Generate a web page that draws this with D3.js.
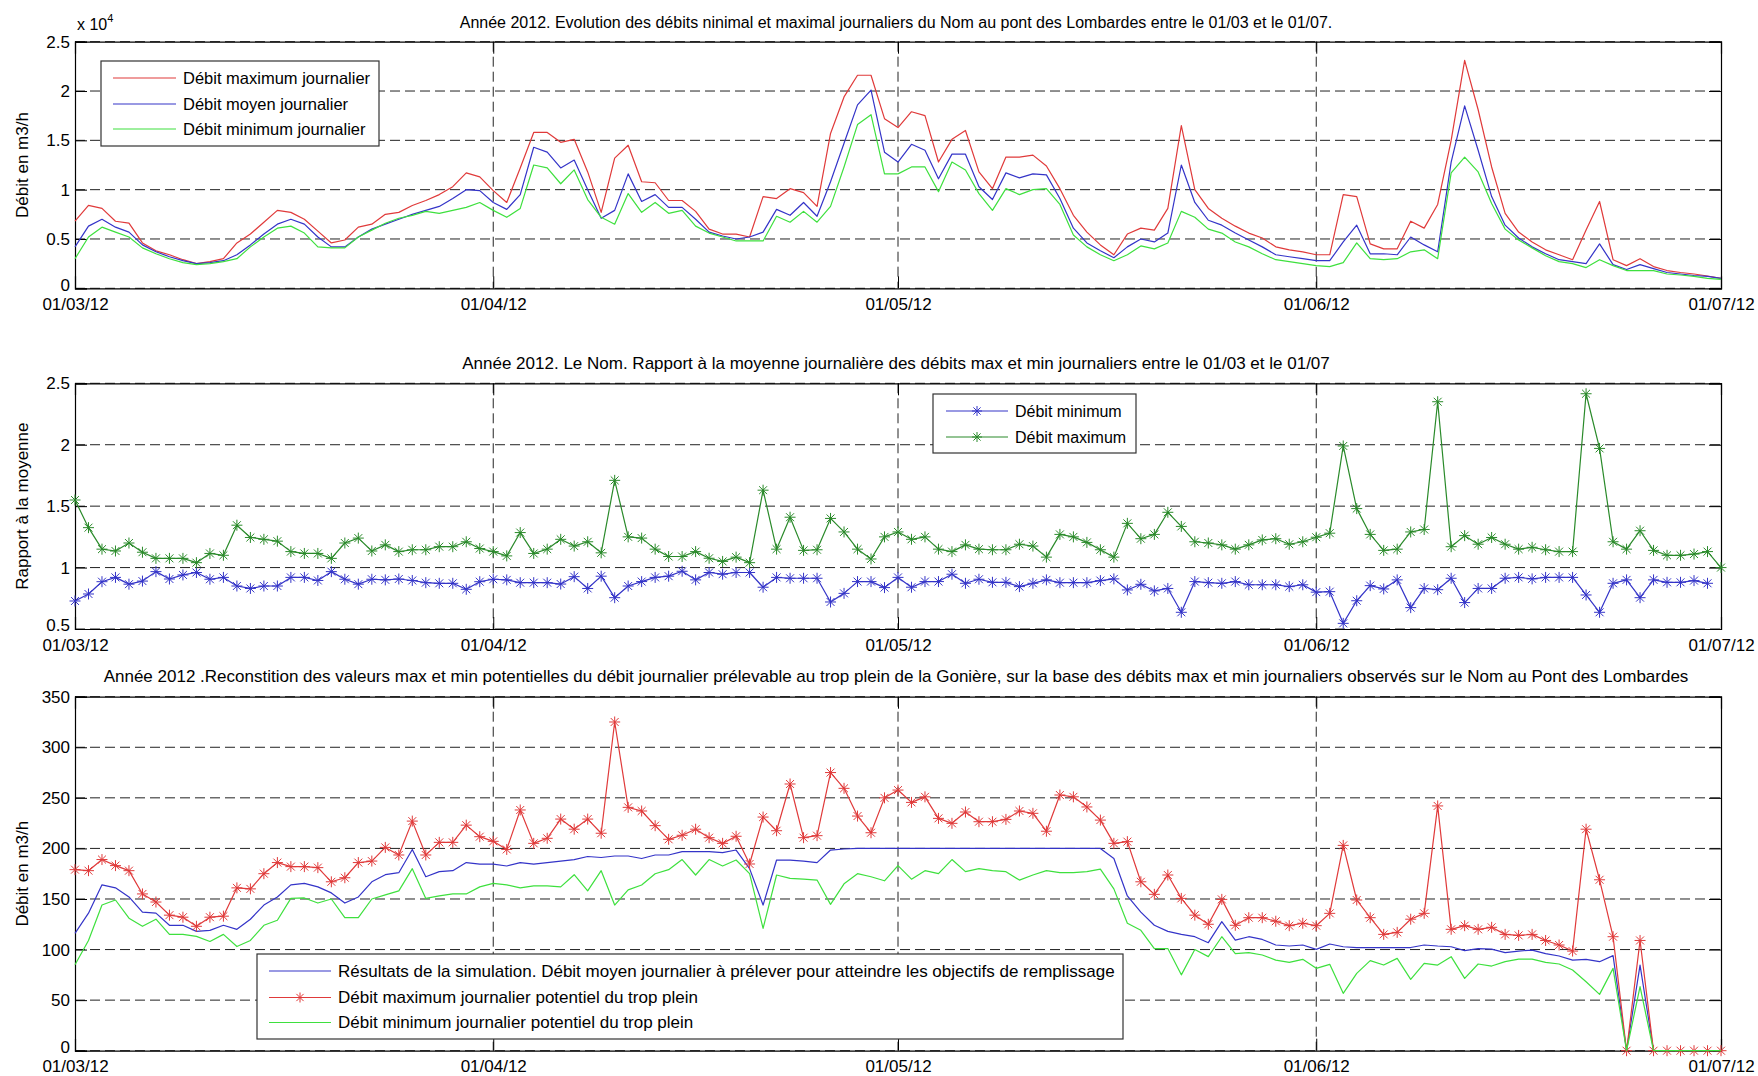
<!DOCTYPE html>
<html>
<head>
<meta charset="utf-8">
<script src="https://cdn.jsdelivr.net/npm/d3@7"></script>
<style>
  body { margin: 0; background: #fff; }
  text { font-family: "Liberation Sans", Arial, sans-serif; fill: #000; }
</style>
</head>
<body>
<div id="main"></div>
<script>
// **** Data: one value per day, 01/03/2012 -> 01/07/2012 ****
var tickLabels = ["01/03/12", "01/04/12", "01/05/12", "01/06/12", "01/07/12"];

// panel 1 (x 10^4 m3/h)
var nomMax = [0.68,0.84,0.81,0.68,0.66,0.46,0.38,0.34,0.29,0.25,0.27,0.30,
  0.46,0.55,0.67,0.79,0.77,0.70,0.58,0.46,0.49,0.62,0.65,0.75,0.77,0.84,0.89,0.95,1.03,1.17,1.13,
  0.99,0.87,1.22,1.58,1.58,1.48,1.51,1.18,0.77,1.32,
  1.45,1.08,1.07,0.89,0.89,0.78,0.60,0.55,0.55,0.52,0.93,0.91,1.01,0.97,0.83,1.57,1.94,2.16,2.16,1.72,
  1.63,1.79,1.75,1.28,1.51,1.60,1.18,1.01,1.33,1.33,1.35,1.24,1.01,0.74,0.57,0.44,0.34,0.55,0.61,0.59,
  0.81,1.65,1.00,
  0.81,0.71,0.63,0.56,0.51,0.42,0.39,0.37,0.34,0.34,0.95,0.93,0.45,0.40,0.40,0.68,0.61,0.85,1.50,2.31,
  1.81,1.23,0.76,0.57,0.47,0.39,0.34,0.29,0.59,0.88,0.29,0.23,0.30,0.22,0.18,0.16,0.145,0.125,0.10];
var nomMoy = [0.42,0.63,0.70,0.62,0.57,0.44,0.37,0.32,0.28,0.25,0.26,0.28,
  0.34,0.44,0.55,0.65,0.70,0.65,0.52,0.42,0.42,0.52,0.60,0.65,0.70,0.75,0.79,0.83,0.91,1.00,0.99,
  0.87,0.80,0.95,1.43,1.38,1.22,1.30,1.00,0.71,0.79,
  1.16,0.88,0.95,0.82,0.82,0.70,0.57,0.53,0.50,0.52,0.57,0.80,0.74,0.87,0.73,1.08,1.47,1.86,2.01,1.38,
  1.28,1.46,1.40,1.11,1.36,1.36,1.03,0.90,1.17,1.12,1.16,1.15,0.91,0.61,0.46,0.38,0.31,0.42,0.50,0.47,
  0.56,1.25,0.87,
  0.69,0.64,0.56,0.49,0.42,0.34,0.32,0.30,0.28,0.28,0.47,0.64,0.35,0.35,0.34,0.52,0.44,0.37,1.28,1.85,
  1.40,0.93,0.64,0.51,0.42,0.35,0.29,0.27,0.25,0.45,0.24,0.19,0.24,0.20,0.16,0.145,0.13,0.12,0.10];
var nomMin = [0.30,0.52,0.62,0.57,0.52,0.41,0.35,0.30,0.26,0.24,0.25,0.27,
  0.30,0.42,0.52,0.61,0.63,0.56,0.42,0.41,0.41,0.52,0.59,0.66,0.71,0.74,0.78,0.76,0.79,0.82,0.87,
  0.79,0.72,0.81,1.25,1.22,1.06,1.20,0.90,0.72,0.65,
  0.96,0.77,0.87,0.76,0.79,0.63,0.56,0.52,0.48,0.48,0.48,0.73,0.67,0.78,0.67,0.83,1.23,1.66,1.76,1.16,
  1.16,1.23,1.23,0.98,1.28,1.20,0.96,0.79,1.01,0.95,1.00,1.01,0.85,0.54,0.42,0.34,0.28,0.34,0.43,0.40,
  0.46,0.78,0.72,
  0.60,0.56,0.47,0.42,0.35,0.29,0.27,0.25,0.23,0.22,0.26,0.46,0.30,0.29,0.30,0.37,0.39,0.30,1.17,1.33,
  1.18,0.86,0.60,0.49,0.41,0.33,0.27,0.25,0.21,0.29,0.23,0.18,0.18,0.18,0.145,0.135,0.12,0.10,0.09];

// panel 2 (ratio to the daily mean)
var rapportMin = [0.728,0.785,0.885,0.92,0.865,0.89,0.967,0.907,0.94,0.96,0.905,0.92,0.85,0.83,0.85,0.85,
  0.92,0.92,0.895,0.967,0.905,0.865,0.905,0.90,0.907,0.895,0.877,0.872,0.872,0.823,0.885,
  0.905,0.90,0.877,0.877,0.877,0.866,0.926,0.83,0.93,0.755,
  0.85,0.886,0.92,0.93,0.97,0.90,0.96,0.946,0.96,0.96,0.84,0.92,0.913,0.913,0.913,0.72,0.79,0.886,0.886,
  0.837,0.92,0.84,0.886,0.886,0.946,0.872,0.905,0.88,0.88,0.845,0.872,0.90,0.877,0.877,0.877,0.894,
  0.908,0.818,0.864,0.81,0.83,0.636,0.886,
  0.877,0.872,0.886,0.86,0.86,0.86,0.845,0.86,0.80,0.804,0.546,0.73,0.853,0.826,0.90,0.674,0.83,0.82,
  0.913,0.715,0.83,0.83,0.913,0.92,0.908,0.92,0.92,0.92,0.777,0.636,0.872,0.90,0.755,0.90,0.88,0.88,
  0.894,0.872];
var rapportMax = [1.55,1.325,1.15,1.135,1.20,1.125,1.075,1.075,1.075,1.04,1.115,1.10,1.345,1.245,1.23,1.215,
  1.13,1.115,1.115,1.075,1.20,1.24,1.135,1.185,1.13,1.145,1.145,1.17,1.17,1.21,1.155,
  1.13,1.095,1.285,1.115,1.15,1.23,1.175,1.21,1.12,1.71,
  1.25,1.24,1.15,1.09,1.09,1.13,1.076,1.05,1.085,1.04,1.63,1.15,1.41,1.14,1.145,1.40,1.29,1.15,1.07,1.25,
  1.29,1.23,1.25,1.15,1.13,1.185,1.15,1.145,1.145,1.19,1.175,1.085,1.27,1.25,1.205,1.145,1.085,1.36,
  1.235,1.27,1.45,1.335,1.21,
  1.20,1.185,1.15,1.185,1.225,1.235,1.19,1.21,1.247,1.28,1.99,1.48,1.27,1.14,1.15,1.29,1.31,2.35,1.17,
  1.26,1.19,1.245,1.19,1.15,1.165,1.145,1.13,1.13,2.415,1.97,1.21,1.15,1.30,1.14,1.10,1.10,1.11,1.13,1.00];

// panel 3 (m3/h, trop plein de la Gonière)
var simMoy = [116,136,164,161,152,137,136,124,124,118,119,124,120,130,144,152,164,165.5,162,156,146,152,
  167,174,176,199,172,177,178,186,184.5,184.5,182.6,186,184.5,186,187.5,189,192,191,192.5,
  192.5,190,193.5,193.5,196.8,196.8,196.8,195.8,198.4,180,144,188.5,188.5,187.5,186,198.4,199.4,
  200,200,200,200,200,200,200,200,200,200,200,200,200,200,200,200,200,200,200,
  190,153,137,124,118,115,112.7,
  106.8,127.6,109.4,112.7,110,104.5,103.5,104.5,100.2,105.5,102.8,102,102,102,102,102,104.5,103.5,
  102.8,99,101,100.5,97,98.5,99.5,96,93.6,89.6,90.3,88,94,0,84.7,0,0,0,0,0,0];
var tropPleinMax = [179,178,189,183,178,155,147,134,132,123,132,133,161,160,175,186,182,182,181,167,171,
  186,187.5,201,193.5,227,193.5,206,206,223,211.6,207,199,238,205,210,229,219,229,215,325,
  240.6,237,222.5,209,213,219,210.6,205,212,184.6,231,217.5,263.7,210.6,212.6,275,259.4,232,215.5,250,
  257.7,245.5,251,229.7,224.8,236,226.4,226.4,228.7,237,234.7,217,252.8,251,241,228,205,206.7,167,154.6,
  173.7,150.6,134,
  125,149.6,124,131.5,131.5,128,123.6,126,123.6,135.8,203,149,131.5,115,117,130,135.8,242,120,123.6,
  120,122,115,114,115,109,104.5,98.5,219,169,112.7,0,109,0,0,0,0,0,0];
var tropPleinMin = [85,109,144,149,131,123,130,115,115,113,108,115,103,109,124,129,150.6,151,146,150,
  131.5,131.5,150,154,158,180,150.6,153,155,155,162,165.5,164,161,163,163,162,174,158,178,144,
  159,163.8,175,179,189,173.7,189,182.6,188.5,175,121,173.7,170.4,169.7,168.7,144.7,165,175,172,168,
  183,169.6,178,175,189,177,180,178,177,168.7,173.7,178,176,176,177,179.6,160,126,119,101,101,75,100,
  93,112.7,96,97,94.6,89.6,87.3,90.3,81.4,85.4,56.7,76.5,89,84.7,91.3,70.5,86.4,84.7,93,71.5,85.7,
  83.7,88,90.6,90.6,87.3,85.7,79.8,68.2,55.7,81.4,0,63.3,0,0,0,0,0,0];

// **** Setup ****
var W = 1758, H = 1076;
var left = 75, right = 1721;
var red = "#e03a3a", blue = "#3434c8", lgreen = "#3ee03e", dgreen = "#2a8a2a";

var svg = d3.select("#main").append("svg")
    .attr("width", W).attr("height", H)
    .style("display", "block");

function dayDate(i) { return new Date(Date.UTC(2012, 2, 1 + i)); }
var tickDates = tickLabels.map(function(s) {
  var p = s.split("/");
  return new Date(Date.UTC(2000 + (+p[2]), +p[1] - 1, +p[0]));
});

var x = d3.scaleUtc()
    .domain([tickDates[0], tickDates[tickDates.length - 1]])
    .range([left, right]);

// asterisk marker like matlab '*'
function star(r) {
  var a = r * 0.72;
  return "M" + (-r) + ",0H" + r + "M0," + (-r) + "V" + r +
         "M" + (-a) + "," + (-a) + "L" + a + "," + a +
         "M" + (-a) + "," + a + "L" + a + "," + (-a);
}

// **** one axes box with grid, ticks and labels ****
function makePanel(top, bottom, yDomain, yTicks, yLabel, title, titleY, titleSize, tickY) {
  var y = d3.scaleLinear().domain(yDomain).range([bottom, top]);
  var g = svg.append("g");

  // dashed grid
  g.append("g").selectAll("line").data(yTicks).enter().append("line")
    .attr("x1", left).attr("x2", right)
    .attr("y1", function(d) { return y(d); }).attr("y2", function(d) { return y(d); })
    .attr("stroke", "#222").attr("stroke-width", 1).attr("stroke-dasharray", "10,5");
  g.append("g").selectAll("line").data(tickDates.slice(1, -1)).enter().append("line")
    .attr("x1", function(d) { return x(d); }).attr("x2", function(d) { return x(d); })
    .attr("y1", top).attr("y2", bottom)
    .attr("stroke", "#222").attr("stroke-width", 1).attr("stroke-dasharray", "10,5");

  // axes (ticks inside, like matlab)
  var yl = g.append("g").attr("transform", "translate(" + left + ",0)")
    .call(d3.axisLeft(y).tickValues(yTicks).tickSize(-12).tickPadding(5).tickFormat(d3.format("")));
  g.append("g").attr("transform", "translate(" + right + ",0)")
    .call(d3.axisRight(y).tickValues(yTicks).tickSize(-12).tickFormat(""));
  var xb = g.append("g").attr("transform", "translate(0," + bottom + ")")
    .call(d3.axisBottom(x).tickValues(tickDates).tickSize(-12).tickPadding(4)
      .tickFormat(function(d, i) { return tickLabels[i]; }));
  g.append("g").attr("transform", "translate(0," + top + ")")
    .call(d3.axisTop(x).tickValues(tickDates).tickSize(-12).tickFormat(""));

  g.selectAll(".domain").attr("stroke", "#000").attr("stroke-width", 1.2);
  g.selectAll(".tick line").attr("stroke", "#000");
  g.selectAll(".tick text").style("font-size", "17px").attr("fill", "#000");
  // lowest y label sits a little higher so it clears the date labels
  yl.selectAll(".tick text").filter(function(d) { return d === yDomain[0]; }).attr("dy", "0.1em");
  xb.selectAll(".tick text").attr("y", tickY - bottom).attr("dy", "0.38em");

  g.append("text")
    .attr("transform", "translate(22," + ((top + bottom) / 2) + ") rotate(-90)")
    .attr("text-anchor", "middle").attr("dy", "0.35em")
    .style("font-size", "17px").text(yLabel);

  svg.append("text")
    .attr("x", (left + right) / 2 - 2).attr("y", titleY)
    .attr("text-anchor", "middle").attr("dy", "0.35em")
    .style("font-size", titleSize).text(title);

  return { g: g, y: y };
}

function drawLine(p, values, color) {
  var line = d3.line()
    .x(function(d, i) { return x(dayDate(i)); })
    .y(function(d) { return p.y(d); });
  p.g.append("path").datum(values)
    .attr("fill", "none").attr("stroke", color).attr("stroke-width", 1.2)
    .attr("stroke-linejoin", "round").attr("d", line);
}

function drawStars(p, values, color) {
  p.g.append("g").selectAll("path").data(values).enter().append("path")
    .attr("transform", function(d, i) { return "translate(" + x(dayDate(i)) + "," + p.y(d) + ")"; })
    .attr("d", star(5.5))
    .attr("fill", "none").attr("stroke", color).attr("stroke-width", 1);
}

function legend(items, bx, by, bw, bh, rowY, lineX0, lineX1, textX, fontSize) {
  var lg = svg.append("g");
  lg.append("rect").attr("x", bx).attr("y", by).attr("width", bw).attr("height", bh)
    .attr("fill", "#fff").attr("stroke", "#333").attr("stroke-width", 1.2);
  items.forEach(function(it, k) {
    var yy = rowY[k];
    lg.append("line").attr("x1", lineX0).attr("x2", lineX1).attr("y1", yy).attr("y2", yy)
      .attr("stroke", it.color).attr("stroke-width", 1.2);
    if (it.star) {
      lg.append("path").attr("transform", "translate(" + ((lineX0 + lineX1) / 2) + "," + yy + ")")
        .attr("d", star(5)).attr("fill", "none").attr("stroke", it.color);
    }
    lg.append("text").attr("x", textX).attr("y", yy).attr("dy", "0.35em")
      .style("font-size", fontSize).text(it.label);
  });
}

// **** Panel 1 ****
var p1 = makePanel(41.7, 288.3, [0, 2.5], [0, 0.5, 1, 1.5, 2, 2.5], "Débit en m3/h",
  "Année 2012. Evolution des débits ninimal et maximal journaliers du Nom au pont des Lombardes entre le 01/03 et le 01/07.",
  22, "16px", 304);
drawLine(p1, nomMax, red);
drawLine(p1, nomMoy, blue);
drawLine(p1, nomMin, lgreen);
var ex = svg.append("text").attr("x", 77).attr("y", 30).style("font-size", "16px");
ex.append("tspan").text("x 10");
ex.append("tspan").attr("dy", -8).style("font-size", "11px").text("4");
legend([
  { label: "Débit maximum journalier", color: red },
  { label: "Débit moyen journalier", color: blue },
  { label: "Débit minimum journalier", color: lgreen }
], 101, 61, 278, 85, [78, 104, 129], 113, 176, 183, "16.5px");

// **** Panel 2 ****
var p2 = makePanel(383.3, 629, [0.5, 2.5], [0.5, 1, 1.5, 2, 2.5], "Rapport à la moyenne",
  "Année 2012. Le Nom.  Rapport à la moyenne journalière des débits max et min journaliers entre le 01/03 et le 01/07",
  363, "17px", 645);
drawLine(p2, rapportMin, blue);
drawStars(p2, rapportMin, blue);
drawLine(p2, rapportMax, dgreen);
drawStars(p2, rapportMax, dgreen);
legend([
  { label: "Débit minimum", color: blue, star: true },
  { label: "Débit maximum", color: dgreen, star: true }
], 933, 394, 203, 59, [411, 437], 946, 1008, 1015, "16px");

// **** Panel 3 ****
var p3 = makePanel(696.7, 1050.7, [0, 350], [0, 50, 100, 150, 200, 250, 300, 350], "Débit en m3/h",
  "Année 2012 .Reconstition des valeurs max et min potentielles du débit journalier prélevable au trop plein de la Gonière, sur la base des débits max et min journaliers observés sur le Nom au Pont des Lombardes",
  676, "17px", 1066);
drawLine(p3, simMoy, blue);
drawLine(p3, tropPleinMax, red);
drawStars(p3, tropPleinMax, red);
drawLine(p3, tropPleinMin, lgreen);
legend([
  { label: "Résultats de la simulation. Débit moyen journalier à prélever pour atteindre les objectifs de remplissage", color: blue },
  { label: "Débit maximum journalier potentiel du trop plein", color: red, star: true },
  { label: "Débit minimum journalier potentiel du trop plein", color: lgreen }
], 257, 954, 866, 85, [971, 997.5, 1022.5], 269, 331, 338, "17px");
</script>
</body>
</html>
